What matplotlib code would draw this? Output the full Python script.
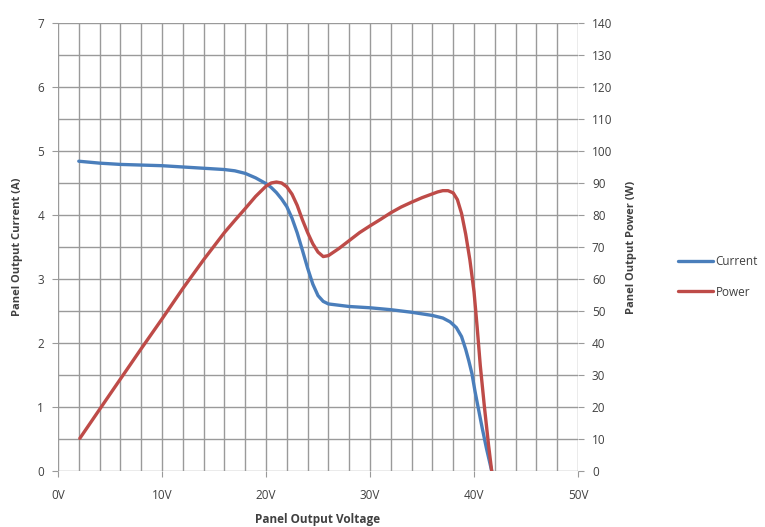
import numpy as np
import matplotlib.pyplot as plt

# values
current_v = [2.0, 4.0, 6.0, 8.0, 10.0, 12.0, 14.0, 16.0, 17.0, 18.0, 19.0, 20.0, 20.5, 21.0, 21.5,
             22.0, 22.5, 23.0, 23.5, 24.0, 24.5, 25.0, 25.5, 26.0, 27.0, 28.0, 30.0, 32.0, 34.0,
             36.0, 37.0, 37.7, 38.3, 38.8, 39.2, 39.5, 39.8, 40.1, 40.4, 40.8, 41.2, 41.7]
current_a = [4.84, 4.81, 4.79, 4.78, 4.77, 4.75, 4.73, 4.71, 4.69, 4.65, 4.58, 4.49, 4.43, 4.35, 4.25,
             4.13, 3.95, 3.72, 3.45, 3.17, 2.92, 2.74, 2.65, 2.61, 2.59, 2.57, 2.55, 2.52, 2.48,
             2.43, 2.39, 2.33, 2.24, 2.10, 1.90, 1.72, 1.52, 1.24, 0.99, 0.66, 0.35, 0.0]

power_v = [2.1, 5.0, 8.0, 10.0, 12.0, 14.0, 16.0, 17.0, 18.0, 19.0, 20.0, 20.5, 21.0, 21.5, 22.0,
           22.5, 23.0, 23.5, 24.0, 24.5, 25.0, 25.5, 26.0, 27.0, 28.0, 29.0, 30.0, 31.0, 32.0,
           33.0, 34.0, 35.0, 36.0, 36.5, 37.0, 37.5, 38.0, 38.4, 38.8, 39.2, 39.6, 40.0, 40.3,
           40.6, 41.0, 41.4, 41.7]
power_w = [10.2, 24.0, 38.2, 47.5, 57.0, 66.0, 74.5, 78.3, 82.0, 85.8, 89.0, 90.0, 90.3, 90.0, 88.8,
           86.5, 83.0, 78.5, 74.5, 71.0, 68.4, 67.0, 67.3, 69.5, 72.0, 74.5, 76.6, 78.6, 80.7,
           82.5, 84.0, 85.4, 86.6, 87.2, 87.6, 87.6, 86.9, 84.8, 80.5, 74.0, 66.0, 56.0, 45.0,
           33.0, 20.0, 8.0, 0.0]

x_ticks = [0, 10, 20, 30, 40, 50]
x_labels = ['0V', '10V', '20V', '30V', '40V', '50V']

blue = '#4a7ebb'
red = '#be4b48'
txt = '#404040'
plt.rcParams['font.family'] = ['Open Sans', 'DejaVu Sans']

fig = plt.figure(figsize=(7.65, 5.27), dpi=100)
ax = fig.add_axes([0.0758, 0.1063, 0.6798, 0.8501])
ax2 = ax.twinx()

ax.set_xlim(0, 50)
ax.set_ylim(0, 7)
ax2.set_ylim(0, 140)

ax.set_xticks(np.arange(0, 51, 2), minor=True)
ax.set_xticks(x_ticks)
ax.set_xticklabels(x_labels)
ax.set_yticks(np.arange(0, 8, 1))
ax.set_yticks(np.arange(0, 7.01, 0.5), minor=True)
ax2.set_yticks(np.arange(0, 141, 10))

ax.grid(True, which='both', color='#9a9a9a', linewidth=1.0)
ax.set_axisbelow(True)

for a in (ax, ax2):
    for s in a.spines.values():
        s.set_visible(False)
ax.tick_params(axis='both', which='minor', length=0)
ax.tick_params(axis='both', which='major', length=4, color='#9a9a9a', labelsize=8.5,
               labelcolor=txt, pad=6)
ax2.tick_params(axis='y', length=4, color='#9a9a9a', labelsize=8.5, labelcolor=txt, pad=6)
ax.tick_params(axis='x', pad=9)

l1, = ax.plot(current_v, current_a, color=blue, linewidth=2.4, solid_capstyle='round',
              solid_joinstyle='round', label='Current')
l2, = ax2.plot(power_v, power_w, color=red, linewidth=2.4, solid_capstyle='round',
               solid_joinstyle='round', label='Power')

ax.set_xlabel('Panel Output Voltage', fontsize=8.5, fontweight='bold', color=txt, labelpad=8)
ax.set_ylabel('Panel Output Current (A)', fontsize=8, fontweight='bold', color=txt, labelpad=10)
ax2.set_ylabel('Panel Output Power (W)', fontsize=8, fontweight='bold', color=txt, labelpad=10)

fig.legend(handles=[l1, l2], loc='center left', bbox_to_anchor=(0.872, 0.475), frameon=False,
           fontsize=8.5, handlelength=3.0, handletextpad=0.2, labelspacing=1.5, labelcolor=txt)

fig.savefig('out.png', dpi=100)
